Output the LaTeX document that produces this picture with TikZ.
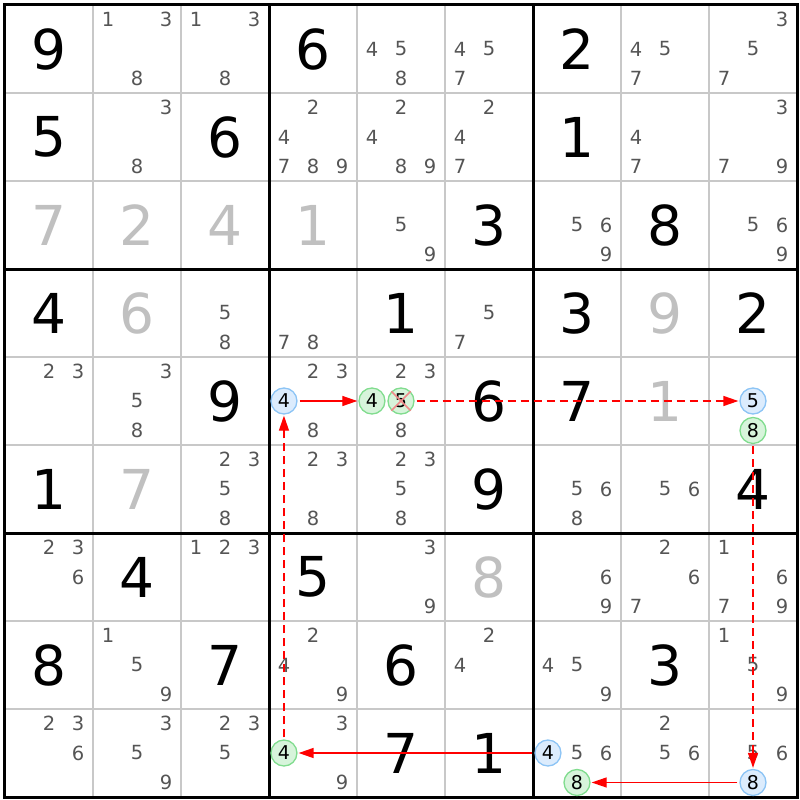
\documentclass[tikz,border=0pt]{standalone}
\usepackage{fontspec}
\setmainfont{DejaVu Sans}
\usetikzlibrary{arrows.meta}

\definecolor{pencil}{HTML}{555555}
\definecolor{solvedgray}{HTML}{C0C0C0}
\definecolor{gridgray}{HTML}{C8C8C8}
\definecolor{bluefill}{HTML}{DCECFD}
\definecolor{bluedraw}{HTML}{8CC4F5}
\definecolor{greenfill}{HTML}{D7F4DB}
\definecolor{greendraw}{HTML}{80DC8E}
\definecolor{crossred}{HTML}{F08A8A}

% candidates of one cell: row, column, digits
\newcommand{\cands}[3]{%
  \foreach \d in {#3}{%
    \pgfmathsetmacro{\cx}{#2-0.5+(mod(\d-1,3)-1)*0.33}%
    \pgfmathsetmacro{\cy}{#1-0.5+(floor((\d-1)/3)-1)*0.335}%
    \node[cand] (p#1#2\d) at (\cx,\cy) {\d};%
  }}
% highlighted candidate: style, row, column, digit
\newcommand{\hilite}[4]{%
  \pgfmathsetmacro{\cx}{#3-0.5+(mod(#4-1,3)-1)*0.33}%
  \pgfmathsetmacro{\cy}{#2-0.5+(floor((#4-1)/3)-1)*0.335}%
  \node[#1] (h#2#3#4) at (\cx,\cy) {#4};}

\begin{document}
\begin{tikzpicture}[
x=88pt, y=-88pt,
thin/.style={draw=gridgray, line width=1.5pt},
thickline/.style={draw=black, line width=3pt},
given/.style={inner sep=0pt, text=black, font=\fontsize{55}{55}\selectfont},
solved/.style={inner sep=0pt, text=solvedgray, font=\fontsize{55}{55}\selectfont},
cand/.style={inner sep=0pt, text=pencil, font=\fontsize{19.5}{19.5}\selectfont},
bluecand/.style={circle, draw=bluedraw, fill=bluefill, line width=1.3pt, minimum size=26pt, inner sep=0pt, text=black, font=\fontsize{19}{19}\selectfont},
greencand/.style={circle, draw=greendraw, fill=greenfill, line width=1.3pt, minimum size=26pt, inner sep=0pt, text=black, font=\fontsize{19}{19}\selectfont},
link/.style={draw=red, line width=1.3pt, -{Triangle[length=15pt,width=10pt]}, shorten <=2pt, shorten >=1pt},
weaklink/.style={link, dash pattern=on 8pt off 5pt},
xline/.style={draw=crossred, line width=1.5pt},
]
\useasboundingbox (-0.0568,-0.0568) rectangle (9.0341,9.0341);

%Grid
\foreach \i in {1,2,4,5,7,8}{
  \draw[thin] (\i,0) -- (\i,9);
  \draw[thin] (0,\i) -- (9,\i);
}
\foreach \i in {3,6}{
  \draw[thickline] (\i,0) -- (\i,9);
  \draw[thickline] (0,\i) -- (9,\i);
}
\draw[thickline] (0,0) rectangle (9,9);

%Givens
\foreach \r/\c/\v in {1/1/9,1/4/6,1/7/2, 2/1/5,2/3/6,2/7/1, 3/6/3,3/8/8,
  4/1/4,4/5/1,4/7/3,4/9/2, 5/3/9,5/6/6,5/7/7, 6/1/1,6/6/9,6/9/4,
  7/2/4,7/4/5, 8/1/8,8/3/7,8/5/6,8/8/3, 9/5/7,9/6/1}
  \node[given] (g\r\c) at (\c-0.5,\r-0.5) {\v};

%Solved
\foreach \r/\c/\v in {3/1/7,3/2/2,3/3/4,3/4/1, 4/2/6,4/8/9, 5/8/1, 6/2/7, 7/6/8}
  \node[solved] (s\r\c) at (\c-0.5,\r-0.5) {\v};

%Candidates
\cands{1}{2}{1,3,8} \cands{1}{3}{1,3,8} \cands{1}{5}{4,5,8}
\cands{1}{6}{4,5,7} \cands{1}{8}{4,5,7} \cands{1}{9}{3,5,7}
\cands{2}{2}{3,8} \cands{2}{4}{2,4,7,8,9} \cands{2}{5}{2,4,8,9}
\cands{2}{6}{2,4,7} \cands{2}{8}{4,7} \cands{2}{9}{3,7,9}
\cands{3}{5}{5,9} \cands{3}{7}{5,6,9} \cands{3}{9}{5,6,9}
\cands{4}{3}{5,8} \cands{4}{4}{7,8} \cands{4}{6}{5,7}
\cands{5}{1}{2,3} \cands{5}{2}{3,5,8} \cands{5}{4}{2,3,8} \cands{5}{5}{2,3,8}
\cands{6}{3}{2,3,5,8} \cands{6}{4}{2,3,8} \cands{6}{5}{2,3,5,8}
\cands{6}{7}{5,6,8} \cands{6}{8}{5,6}
\cands{7}{1}{2,3,6} \cands{7}{3}{1,2,3} \cands{7}{5}{3,9} \cands{7}{7}{6,9}
\cands{7}{8}{2,6,7} \cands{7}{9}{1,6,7,9}
\cands{8}{2}{1,5,9} \cands{8}{4}{2,4,9} \cands{8}{6}{2,4} \cands{8}{7}{4,5,9}
\cands{8}{9}{1,5,9}
\cands{9}{1}{2,3,6} \cands{9}{2}{3,5,9} \cands{9}{3}{2,3,5} \cands{9}{4}{3,9}
\cands{9}{7}{5,6} \cands{9}{8}{2,5,6} \cands{9}{9}{5,6}

%Chain
\hilite{bluecand}{5}{4}{4}
\hilite{greencand}{5}{5}{4}
\hilite{greencand}{5}{5}{5}
\hilite{bluecand}{5}{9}{5}
\hilite{greencand}{5}{9}{8}
\hilite{bluecand}{9}{9}{8}
\hilite{greencand}{9}{7}{8}
\hilite{bluecand}{9}{7}{4}
\hilite{greencand}{9}{4}{4}
\draw[xline] (h555.north west) -- (h555.south east);
\draw[xline] (h555.north east) -- (h555.south west);

%Lines
\draw[link] (h544) -- (h554);
\draw[weaklink] (h555) -- (h595);
\draw[weaklink] (h598) -- (h998);
\draw[link] (h998) -- (h978);
\draw[link] (h974) -- (h944);
\draw[weaklink] (h944) -- (h544);
\end{tikzpicture}
\end{document}
